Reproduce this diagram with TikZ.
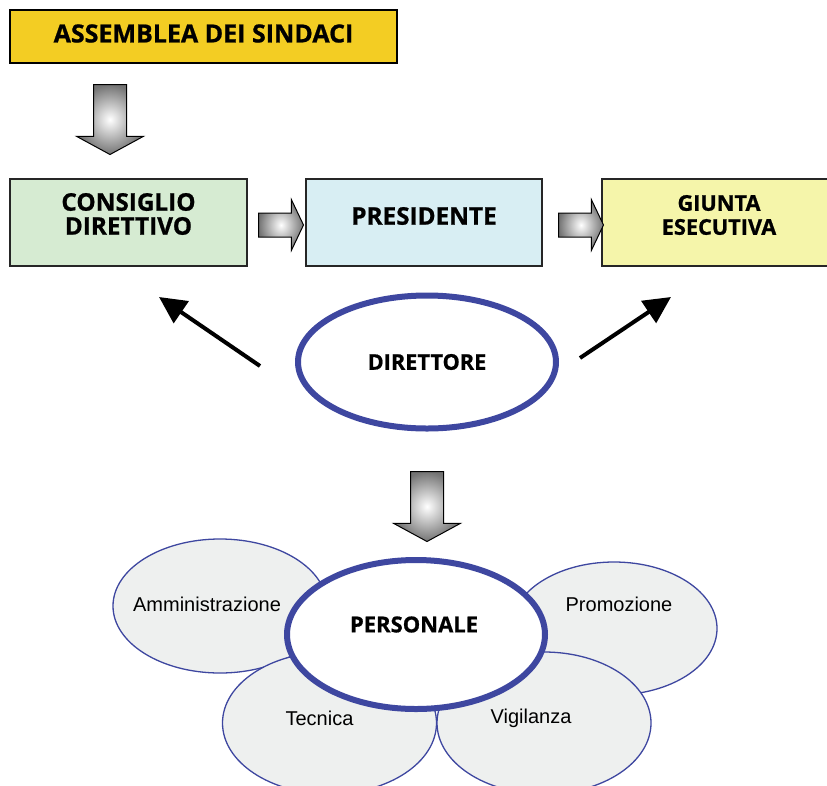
\documentclass[tikz,border=0pt]{standalone}
\usepackage{fontspec}
\newfontfamily\headfont{Open Sans}[BoldFeatures={FakeBold=0.8}]
\newfontfamily\labfont{Liberation Sans}
\usetikzlibrary{arrows.meta}
\usetikzlibrary{calc}
\usetikzlibrary{positioning}
\usetikzlibrary{shapes.geometric}
\usetikzlibrary{shapes.arrows}

\definecolor{asmyellow}{RGB}{243,205,35}
\definecolor{consgreen}{RGB}{214,235,210}
\definecolor{presblue}{RGB}{216,238,243}
\definecolor{giuyellow}{RGB}{245,245,170}
\definecolor{ellblue}{RGB}{62,71,160}
\definecolor{ellgray}{RGB}{238,240,239}

\tikzset{box/.style = {draw=black!85, line width=1.2pt, minimum height=87pt},
         headtxt/.style = {font=\headfont\bfseries\fontsize{24.3}{24}\selectfont, align=center},
         smallhead/.style = {font=\headfont\bfseries\fontsize{21.7}{24}\selectfont, align=center},
         subtxt/.style = {font=\labfont\fontsize{20}{24}\selectfont},
         bigell/.style = {ellipse, draw=ellblue, line width=6pt, fill=white, inner sep=0pt},
         smallell/.style = {ellipse, draw=ellblue, line width=1.3pt, fill=ellgray, inner sep=0pt,
                            minimum width=214pt, minimum height=134pt},
         blockarr/.style = {single arrow, draw=black, line width=1pt, shading=radial,
                            inner color=white, outer color=black!55, inner xsep=0pt,
                            single arrow head indent=0pt},
         downarr/.style = {blockarr, rotate=-90, inner ysep=16pt, minimum height=70pt,
                           single arrow head extend=17pt, single arrow tip angle=123},
         rightarr/.style = {blockarr, inner ysep=11.5pt, minimum height=45pt,
                            single arrow head extend=13.5pt, single arrow tip angle=129},
         bigarrow/.style = {line width=4pt, -{Triangle[length=27pt,width=26pt]}}}

\begin{document}
\begin{tikzpicture}[x=1pt, y=-1pt]
  \useasboundingbox (0,0) rectangle (827,785);

  % top row
  \node [box, draw=black, line width=1.6pt, fill=asmyellow, minimum width=387pt, minimum height=53pt,
         label={[headtxt, font=\headfont\bfseries\fontsize{25}{24}\selectfont, yshift=3pt]center:ASSEMBLEA DEI SINDACI}]
        (asm) at (203.5,36.5) {};
  \node [downarr, anchor=tail] (arrA) at (110,84) {};

  % boxes
  \node [box, fill=consgreen, minimum width=237pt,
         label={[headtxt, yshift=8.5pt]center:CONSIGLIO\\DIRETTIVO}] (cons) at (128.5,222.5) {};
  \node [box, fill=presblue, minimum width=236pt,
         label={[headtxt, yshift=6.5pt]center:PRESIDENTE}] (pres) at (424,222.5) {};
  \node [box, fill=giuyellow, minimum width=234pt,
         label={[smallhead, yshift=7.5pt]center:GIUNTA\\ESECUTIVA}] (giu) at (719,222.5) {};
  \node [rightarr, anchor=tail] (arrB) at (258,225) {};
  \node [rightarr, anchor=tail] (arrC) at (558,225) {};

  % direttore
  \node [bigell, smallhead, minimum width=258pt, minimum height=133pt] (dir) at (427,362) {DIRETTORE};
  \coordinate (dirL) at (260,366);
  \coordinate (consB) at (159,297);
  \coordinate (dirR) at (580,358);
  \coordinate (giuB) at (671,297);
  \draw [bigarrow] (dirL) -- (consB);
  \draw [bigarrow] (dirR) -- (giuB);

  \node [downarr, anchor=tail] (arrD) at (427,471) {};

  % personale
  \node [smallell, label={[subtxt, xshift=-13pt, yshift=2pt]center:Amministrazione}] (amm) at (220,606) {};
  \node [smallell, minimum width=206pt, minimum height=133pt,
         label={[subtxt, xshift=5pt, yshift=24pt]center:Promozione}] (pro) at (614,628.5) {};
  \node [smallell, minimum height=142pt, label={[subtxt, xshift=-10pt, yshift=5pt]center:Tecnica}]
        (tec) at (329.5,723) {};
  \node [smallell, minimum height=142pt, label={[subtxt, xshift=-13pt, yshift=5pt]center:Vigilanza}]
        (vig) at (544,723) {};
  \node [bigell, minimum width=258pt, minimum height=149pt,
         label={[smallhead, font=\headfont\bfseries\fontsize{22}{24}\selectfont, xshift=-2pt, yshift=10pt]center:PERSONALE}]
        (pers) at (416,634.5) {};
\end{tikzpicture}
\end{document}
